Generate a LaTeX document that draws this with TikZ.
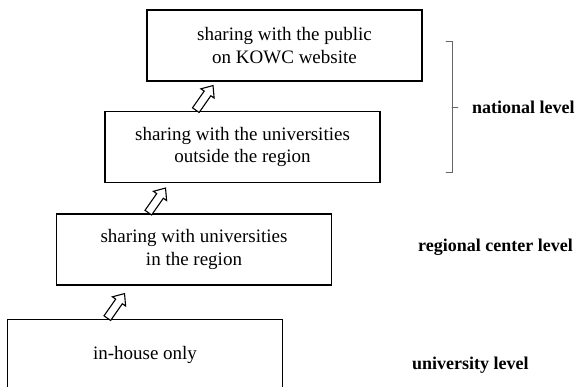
\documentclass[tikz,border=0pt]{standalone}
\usepackage{fontspec}
\setmainfont{Liberation Serif}
\usetikzlibrary{shapes.arrows}
\usetikzlibrary{positioning}

\begin{document}
\begin{tikzpicture}
				[x=1pt,y=1pt,line cap=round,
				%Styles
				level box/.style={draw,line width=1.8pt,minimum width=275pt,minimum height=71pt,inner sep=0pt,align=center,font=\fontsize{19}{22.5}\selectfont},
				up arrow/.style={single arrow,draw,fill=white,line width=1.1pt,inner xsep=0pt,inner ysep=3.5pt,minimum height=30pt,single arrow head extend=4pt,single arrow tip angle=80,rotate=55,anchor=tail},
				level text/.style={inner sep=0pt,anchor=west,font=\fontsize{18}{21}\selectfont\bfseries},
				brace line/.style={draw=black!60,line width=0.9pt}
				]
				
				\clip (0,0) rectangle (577,387);
				
				%The graphic
				\node[level box] (public) at (284.5,341.5) {sharing with the public\\on KOWC website};
				\node[level box] (outside) at (242.5,240) {sharing with the universities\\outside the region};
				\node[level box] (region) at (194,137.5) {sharing with universities\\in the region};
				\node[level box] (inhouse) at (145,32) {in-house only};
				
				%Arrows between the levels
				\node[up arrow] (arr1) at ([xshift=-38pt]inhouse.north) {};
				\node[up arrow] (arr2) at ([xshift=-46pt]region.north) {};
				\node[up arrow] (arr3) at ([xshift=-47pt]outside.north) {};
				
				%Brace
				\coordinate (nattop) at (452,346);
				\coordinate (natbot) at (452,215);
				\coordinate (natmid) at (452,280);
				\draw[brace line] ([xshift=-6pt]nattop) -- (nattop) -- (natbot) -- ([xshift=-6pt]natbot);
				\draw[brace line] (natmid) -- ++(6,0);
				
				\node[level text,right=20pt of natmid] (national) {national level};
				\node[level text] (regional) at (418,140) {regional center level};
				\node[level text] (university) at (412,22) {university level};
			\end{tikzpicture}
\end{document}
